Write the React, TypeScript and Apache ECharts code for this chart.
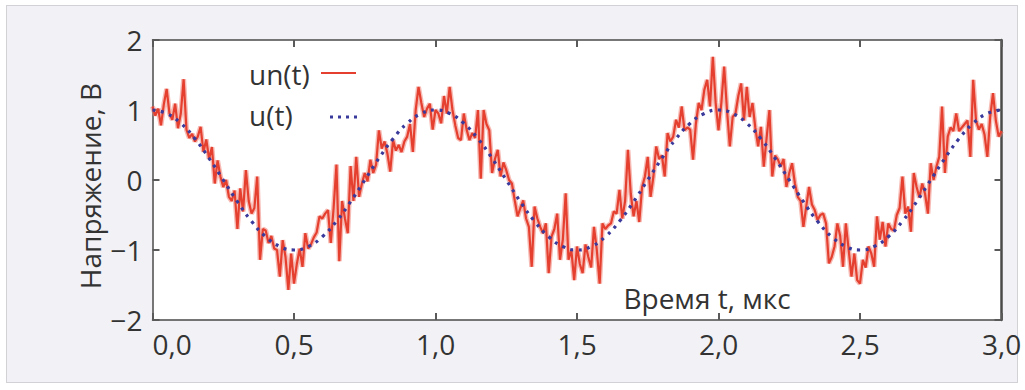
import React, { useEffect, useRef } from "react";
import * as echarts from "echarts";

const xTickLabels = ["0,0", "0,5", "1,0", "1,5", "2,0", "2,5", "3,0"];
const yTickLabels = ["−2", "−1", "0", "1", "2"];
const seriesNames = ["un(t)", "u(t)"];
const xTitle = "Время t, мкс";
const yTitle = "Напряжение, В";

// noisy signal un(t), sampled every 0.01 µs from t = 0 to 3
const noisyStep = 0.01;
const noisyValues = [
  1.05, 0.92, 1.02, 0.78, 1.08, 1.30, 0.95, 0.86, 1.09, 0.74,
  0.95, 1.44, 0.72, 0.60, 0.66, 0.55, 0.62, 0.76, 0.40, 0.58,
  0.30, 0.47, -0.05, 0.28, 0.05, -0.10, 0.00, -0.24, -0.30, -0.15,
  -0.70, -0.12, -0.45, 0.14, -0.30, -0.48, -0.40, 0.05, -1.14, -0.70,
  -0.72, -0.90, -0.80, -0.98, -1.00, -1.38, -0.86, -1.10, -1.57, -1.05,
  -1.48, -1.20, -0.98, -1.24, -0.76, -0.98, -0.92, -0.82, -0.75, -0.52,
  -0.55, -0.48, -0.43, -0.90, -0.40, 0.22, -1.16, -0.30, -0.55, -0.76,
  0.20, -0.30, 0.33, -0.24, -0.05, 0.10, -0.02, 0.29, 0.10, 0.22,
  0.71, 0.45, 0.55, 0.38, 0.12, 0.57, 0.42, 0.50, 0.40, 0.55,
  0.62, 0.80, 0.40, 1.00, 1.33, 1.10, 0.90, 1.02, 1.09, 0.72,
  1.00, 0.95, 0.81, 1.20, 0.95, 1.33, 1.00, 0.78, 0.60, 0.57,
  0.95, 0.72, 0.57, 0.67, 0.60, 1.00, 0.02, 1.00, 0.80, 0.71,
  0.10, 0.30, 0.43, 0.05, 0.25, 0.14, 0.00, -0.05, -0.29, -0.52,
  -0.40, -0.29, -0.55, -0.67, -1.24, -0.38, -0.55, -0.67, -0.76, -0.62,
  -1.33, -0.81, -0.70, -0.48, -1.14, -0.85, -0.19, -1.14, -1.00, -1.43,
  -0.95, -1.20, -1.33, -0.92, -1.10, -1.25, -0.67, -1.00, -1.48, -0.62,
  -0.70, -0.65, -0.62, -0.45, -0.48, -0.14, -0.55, -0.30, 0.43, -0.20,
  -0.52, -0.30, -0.60, -0.10, 0.05, 0.33, -0.24, 0.05, 0.48, 0.30,
  0.35, 0.05, 0.67, 0.55, 0.62, 0.86, 0.75, 1.05, 0.71, 0.75,
  0.72, 0.29, 0.80, 1.10, 1.00, 1.29, 1.43, 1.05, 1.76, 1.10,
  0.71, 1.10, 1.62, 1.00, 0.48, 0.90, 0.95, 1.20, 1.38, 0.85,
  1.33, 0.90, 1.10, 0.75, 0.48, 0.76, 0.19, 0.60, 1.00, 0.05,
  0.35, 0.29, 0.19, 0.30, -0.10, 0.10, 0.24, -0.05, -0.24, -0.30,
  -0.67, -0.38, -0.10, -0.35, -0.43, -0.57, -0.50, -0.48, -0.62, -1.19,
  -1.10, -0.95, -0.62, -0.80, -1.24, -0.62, -1.00, -1.38, -1.05, -1.43,
  -1.48, -1.14, -1.25, -0.95, -1.05, -1.24, -0.52, -0.85, -0.60, -0.95,
  -0.62, -0.70, -0.72, -0.50, -0.40, 0.05, -0.48, -0.38, -0.74, 0.10,
  -0.10, -0.25, -0.05, -0.20, -0.48, 0.24, 0.00, 0.19, 0.33, 1.05,
  0.10, 0.62, 0.75, 0.70, 0.95, 0.70, 0.75, 0.80, 0.85, 0.33,
  1.43, 0.85, 0.72, 0.80, 0.65, 0.33, 0.90, 1.24, 0.85, 0.62, 0.70,
];

// ideal signal u(t), sampled every 0.05 µs
const idealStep = 0.05;
const idealValues = [
  1.0, 0.95, 0.81, 0.59, 0.31, 0.0, -0.31, -0.59, -0.81, -0.95,
  -1.0, -0.95, -0.81, -0.59, -0.31, 0.0, 0.31, 0.59, 0.81, 0.95,
  1.0, 0.95, 0.81, 0.59, 0.31, 0.0, -0.31, -0.59, -0.81, -0.95,
  -1.0, -0.95, -0.81, -0.59, -0.31, 0.0, 0.31, 0.59, 0.81, 0.95,
  1.0, 0.95, 0.81, 0.59, 0.31, 0.0, -0.31, -0.59, -0.81, -0.95,
  -1.0, -0.95, -0.81, -0.59, -0.31, 0.0, 0.31, 0.59, 0.81, 0.95,
  1.0,
];

const FONT = '"Open Sans", "Noto Sans", "DejaVu Sans", sans-serif';
const RED = "#e5402f";
const BLUE = "#3a3a9c";
const FRAME = "#4a4a4a";

export default function App() {
  const ref = useRef<HTMLDivElement>(null);

  useEffect(() => {
    if (!ref.current) return;
    const chart = echarts.init(ref.current, undefined, { renderer: "svg" });

    const noisyData = noisyValues.map((v, i) => [+(i * noisyStep).toFixed(2), v]);
    const idealData = idealValues.map((v, i) => [+(i * idealStep).toFixed(2), v]);

    const tick = { show: true, inside: true, length: 7, lineStyle: { color: "#5a5a5a", width: 2 } };
    const borderLine = { show: true, onZero: false, lineStyle: { color: FRAME, width: 1.5 } };
    const xLabel = (v: number) => xTickLabels[Math.round(v / 0.5)] ?? "";
    const yLabel = (v: number) => yTickLabels[Math.round(v + 2)] ?? "";

    chart.setOption({
      animation: false,
      backgroundColor: "transparent",
      grid: {
        left: 152.5,
        right: 23.5,
        top: 40,
        bottom: 70,
        show: true,
        backgroundColor: "#ffffff",
        borderWidth: 0,
      },
      xAxis: [
        {
          type: "value",
          min: 0,
          max: 3,
          interval: 0.5,
          position: "bottom",
          axisLine: borderLine,
          axisTick: tick,
          splitLine: { show: false },
          axisLabel: {
            formatter: xLabel,
            fontSize: 28,
            color: "#333",
            margin: 10,
            fontFamily: FONT,
            showMinLabel: true,
            showMaxLabel: true,
            alignMinLabel: "left",
          },
        },
        {
          type: "value",
          min: 0,
          max: 3,
          interval: 0.5,
          position: "top",
          axisLine: borderLine,
          axisTick: tick,
          splitLine: { show: false },
          axisLabel: { show: false },
        },
      ],
      yAxis: [
        {
          type: "value",
          min: -2,
          max: 2,
          interval: 1,
          position: "left",
          axisLine: borderLine,
          axisTick: tick,
          splitLine: { show: false },
          axisLabel: {
            formatter: yLabel,
            fontSize: 28,
            color: "#333",
            margin: 10,
            fontFamily: FONT,
          },
        },
        {
          type: "value",
          min: -2,
          max: 2,
          interval: 1,
          position: "right",
          axisLine: { show: true, onZero: false, lineStyle: { color: FRAME, width: 2.5 } },
          axisTick: tick,
          splitLine: { show: false },
          axisLabel: { show: false },
        },
      ],
      series: [
        {
          name: "halo",
          type: "line",
          data: noisyData,
          symbol: "none",
          silent: true,
          lineStyle: { color: "rgba(240,120,108,0.5)", width: 5 },
          z: 1,
        },
        {
          name: seriesNames[0],
          type: "line",
          data: noisyData,
          symbol: "none",
          lineStyle: { color: RED, width: 2.2 },
          z: 2,
        },
        {
          name: seriesNames[1],
          type: "line",
          data: idealData,
          symbol: "none",
          smooth: true,
          lineStyle: { color: BLUE, width: 3.2, type: [3, 5.5], cap: "butt" },
          z: 3,
        },
      ],
      graphic: [
        {
          type: "text",
          x: 90,
          y: 186,
          rotation: Math.PI / 2,
          z: 100,
          style: {
            text: yTitle,
            font: `28px ${FONT}`,
            fill: "#333",
            textAlign: "center",
            textVerticalAlign: "middle",
          },
        },
        {
          type: "text",
          x: 707,
          y: 298,
          z: 100,
          style: {
            text: xTitle,
            font: `28px ${FONT}`,
            fill: "#333",
            textAlign: "center",
            textVerticalAlign: "middle",
          },
        },
        {
          type: "text",
          x: 249,
          y: 74,
          z: 100,
          style: {
            text: seriesNames[0],
            font: `28px ${FONT}`,
            fill: "#333",
            textAlign: "left",
            textVerticalAlign: "middle",
          },
        },
        {
          type: "line",
          z: 100,
          shape: { x1: 321, y1: 73, x2: 356, y2: 73 },
          style: { stroke: RED, lineWidth: 2.2 },
        },
        {
          type: "text",
          x: 249,
          y: 115,
          z: 100,
          style: {
            text: seriesNames[1],
            font: `28px ${FONT}`,
            fill: "#333",
            textAlign: "left",
            textVerticalAlign: "middle",
          },
        },
        {
          type: "line",
          z: 100,
          shape: { x1: 330, y1: 117, x2: 360, y2: 117 },
          style: { stroke: BLUE, lineWidth: 3.2, lineDash: [3, 5] },
        },
      ],
    });

    return () => chart.dispose();
  }, []);

  return (
    <div
      style={{
        position: "fixed",
        left: 0,
        top: 0,
        width: 1025,
        height: 390,
        background: "#ffffff",
      }}
    >
      <div
        style={{
          position: "absolute",
          left: 6,
          top: 5,
          width: 1010,
          height: 376,
          background: "#f2f2f6",
          border: "1.5px solid #d2d2d6",
        }}
      />
      <div
        ref={ref}
        style={{ position: "absolute", left: 0, top: 0, width: 1025, height: 390 }}
      />
    </div>
  );
}
